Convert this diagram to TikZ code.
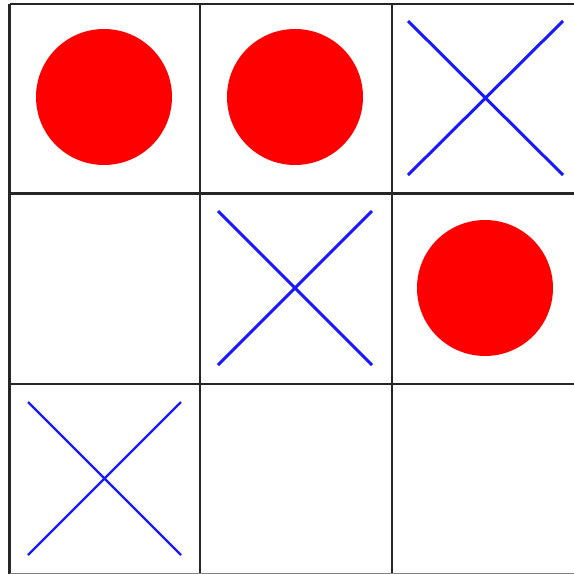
\documentclass[tikz,border=0pt]{standalone}
\begin{document}
\begin{tikzpicture}[x=1pt,y=-1pt,
  gridline/.style={draw=black!85,line width=2.4pt},
  oh/.style={fill=red,draw=none},
  cross/.style={draw=blue!90!white,line width=3pt},
  thincross/.style={draw=blue!90!white,line width=2.2pt}]
\useasboundingbox (0,0) rectangle (574,574);
\fill[white] (0,0) rectangle (574,574);
% grid
\draw[gridline] (9.5,4) -- (9.5,578);
\draw[gridline] (200,4) -- (200,578);
\draw[gridline] (392,4) -- (392,578);
\draw[gridline] (9.5,4) -- (578,4);
\draw[gridline] (9.5,193.5) -- (578,193.5);
\draw[gridline] (9.5,384) -- (578,384);
\draw[gridline,draw=black!50] (9.5,574) -- (578,574);
% O marks
\fill[oh] (104,97) circle (68);
\fill[oh] (295,97) circle (68);
\fill[oh] (485,288) circle (68);
% X marks
\draw[cross] (408,21) -- (563,175) (563,21) -- (408,175);
\draw[cross] (218,211) -- (372,365) (372,211) -- (218,365);
\draw[thincross] (28,402) -- (181,555) (181,402) -- (28,555);
\end{tikzpicture}
\end{document}
